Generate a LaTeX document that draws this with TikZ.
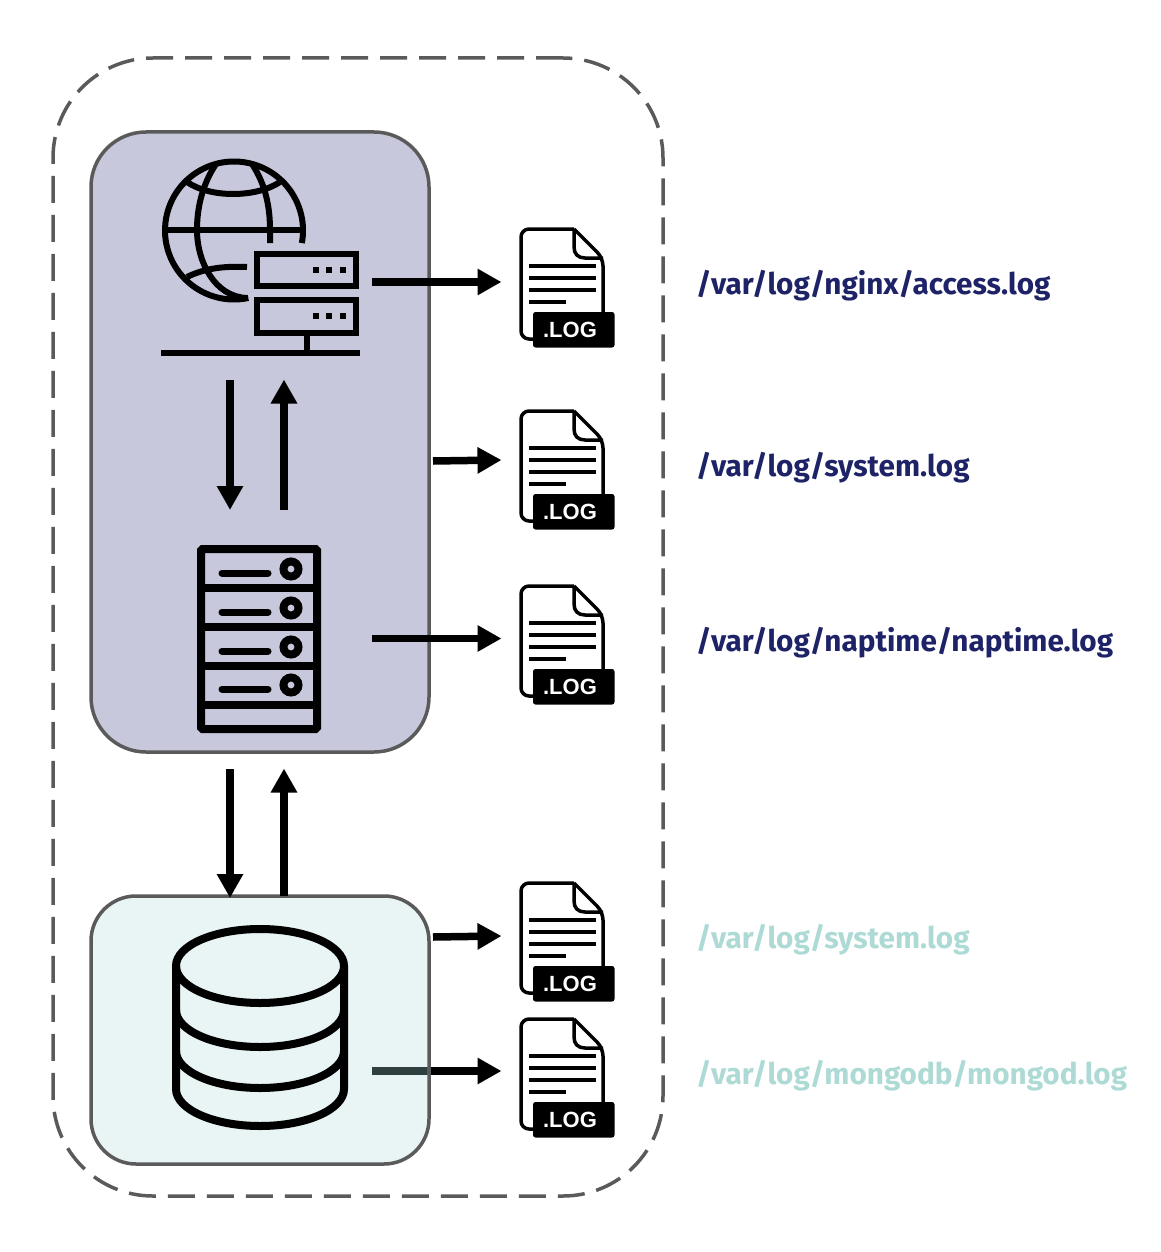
\documentclass[tikz,border=0pt]{standalone}
\usepackage{fontspec}
\setmainfont{Fira Sans}
\newfontfamily\tagfont{Liberation Sans}
\usetikzlibrary{arrows.meta}
\definecolor{webfill}{HTML}{C7C8DC}
\definecolor{dbfill}{HTML}{E9F4F5}
\definecolor{edgegray}{HTML}{5A5A5A}
\definecolor{navytext}{HTML}{1E2266}
\definecolor{tealtext}{HTML}{AEDAD5}
\definecolor{shaftdark}{HTML}{2F3F3F}
\tikzset{
  tier/.style={draw=edgegray,line width=3.5pt,inner sep=0pt,outer sep=0pt},
  flow/.style={line width=7.5pt,-{Triangle[length=24pt,width=25pt]}},
  icon/.style={line width=6pt},
  logpath/.style={anchor=west,inner sep=0pt,font=\fontsize{29.7}{30}\selectfont\bfseries},
  logfile/.pic={
    \draw[line width=3.5pt,fill=white,line join=round,rounded corners=8pt] (55,1) -- (2,1) -- (2,111) -- (60,111) -- (84,111) -- (84,30) [sharp corners] -- (55,1);
    \draw[line width=3.5pt,line join=round] (55,1) -- (55,19) .. controls (55,26) and (59,30) .. (66,30) -- (84,30);
    \foreach \y in {38,50,62}
      \draw[line width=3.5pt] (10,\y) -- (77,\y);
    \draw[line width=3.5pt] (10,74) -- (47,74);
    \fill[rounded corners=2.5pt] (14,84) rectangle (95.5,119.5);
    \node[inner sep=0pt,text=white,font=\tagfont\bfseries\fontsize{22}{22}\selectfont] at (51,102) {.LOG};
  }
}
\begin{document}
\begin{tikzpicture}[x=1pt,y=-1pt]
  \useasboundingbox (0,0) rectangle (1160,1252);
  \node[draw=edgegray,line width=3.5pt,dash pattern=on 27pt off 12pt,rounded corners=100pt,
    minimum width=610pt,minimum height=1138pt,inner sep=0pt,outer sep=0pt] (host) at (358,627) {};
  \node[tier,fill=webfill,rounded corners=55pt,minimum width=338pt,minimum height=620pt] (app) at (260,442) {};
  \node[tier,fill=dbfill,rounded corners=45pt,minimum width=338pt,minimum height=268pt] (db) at (260,1030) {};

  % globe and web server
  \begin{scope}[icon]
    \draw (234,230.5) ++(10.5:69) arc[start angle=10.5,end angle=-282,radius=69];
    \draw (165,230) -- (302,230);
    \draw (187,182) .. controls (210,198) and (256,198) .. (280,182);
    \draw (187,277) .. controls (205,268) and (225,266) .. (247,267);
    \draw (216,164) .. controls (202,185) and (197,208) .. (197,230) .. controls (197,262) and (215,297) .. (247,298);
    \draw (252,164) .. controls (266,185) and (270,208) .. (270,230) -- (270,243);
    \draw (257,254) rectangle (356,286);
    \draw (257,300) rectangle (356,333);
    \draw (307,336) -- (307,353);
    \draw (161,353) -- (360,353);
  \end{scope}
  \foreach \y in {270,316}
    \foreach \x in {316,329,343}
      \fill (\x-3,\y-3) rectangle (\x+3,\y+3);

  % rack
  \draw[line width=8pt,rounded corners=1.5pt] (201,549) rectangle (317,729);
  \foreach \y in {588,627,666,705}
    \draw[line width=8pt] (201,\y) -- (317,\y);
  \foreach \y in {573,612,651,689} {
    \draw[line width=7pt,line cap=round] (222,\y) -- (268,\y);
    \draw[line width=8pt] (291,\y-4) circle[radius=7.5];
  }

  % database
  \begin{scope}[line width=8pt]
    \draw (260,966) circle[x radius=84,y radius=37];
    \draw (176,966) -- (176,1089) arc[start angle=180,end angle=0,x radius=84,y radius=37] -- (344,966);
    \draw (176,1010) arc[start angle=180,end angle=0,x radius=84,y radius=37];
    \draw (176,1051) arc[start angle=180,end angle=0,x radius=84,y radius=37];
  \end{scope}

  % log files
  \foreach \name/\y in {nginxlog/228,applog/410,naplog/585,mongosys/882,mongolog/1018} {
    \pic at (519,\y) {logfile};
    \coordinate (\name) at (501.5,\y+54);
  }

  \node[logpath,text=navytext] (nginxpath) at (696,286) {/var/log/nginx/access.log};
  \node[logpath,text=navytext] (syspath) at (696,468) {/var/log/system.log};
  \node[logpath,text=navytext] (nappath) at (696,643) {/var/log/naptime/naptime.log};
  \node[logpath,text=tealtext] (dbsyspath) at (696,940) {/var/log/system.log};
  \node[logpath,text=tealtext] (mongopath) at (696,1076) {/var/log/mongodb/mongod.log};

  % connectors
  \draw[flow] (app.east |- 0,461) ++(4,0) -- (applog |- 0,460);
  \draw[flow] (372,282) -- (nginxlog);
  \draw[flow] (372,638.5) -- (naplog |- 0,638.5);
  \draw[flow] (db.east |- 0,937) ++(4,0) -- (mongosys |- 0,936);
  \draw[flow] (372,1071) -- (mongolog |- 0,1071);
  \draw[shaftdark,line width=7.5pt] (372,1071) -- (db.east |- 0,1071);
  \draw[edgegray,line width=3.5pt] (db.east |- 0,1067) -- (db.east |- 0,1075);
  \draw[flow] (230,380) -- (230,510);
  \draw[flow] (284,510) -- (284,379.5);
  \draw[flow] (230,769) -- (230,898);
  \draw[flow] (db.north -| 284,0) -- (284,768.5);
\end{tikzpicture}
\end{document}
